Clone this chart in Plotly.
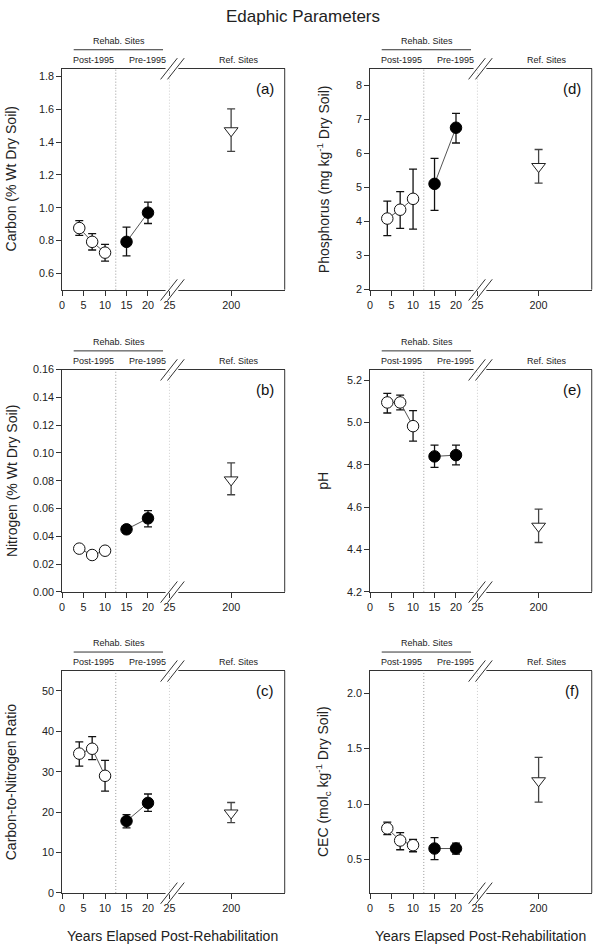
import plotly.graph_objects as go

# ---------------- data ----------------
years_post = [4, 7, 10]
years_pre = [15, 20]
years_ref = [200]

carbon_post = [0.876, 0.792, 0.726]
carbon_post_hi = [0.922, 0.842, 0.776]
carbon_post_lo = [0.832, 0.742, 0.674]
carbon_pre = [0.792, 0.970]
carbon_pre_hi = [0.882, 1.034]
carbon_pre_lo = [0.706, 0.904]
carbon_ref = [1.47]
carbon_ref_hi = [1.604]
carbon_ref_lo = [1.344]

nitrogen_post = [0.0311, 0.0265, 0.0296]
nitrogen_post_hi = [0.0333, 0.0280, 0.0320]
nitrogen_post_lo = [0.0290, 0.0250, 0.0272]
nitrogen_pre = [0.0450, 0.0529]
nitrogen_pre_hi = [0.0467, 0.0585]
nitrogen_pre_lo = [0.0433, 0.0467]
nitrogen_ref = [0.0806]
nitrogen_ref_hi = [0.0929]
nitrogen_ref_lo = [0.0699]

cn_post = [34.5, 35.7, 29.0]
cn_post_hi = [37.4, 38.7, 32.8]
cn_post_lo = [31.4, 33.0, 25.2]
cn_pre = [17.8, 22.3]
cn_pre_hi = [19.4, 24.5]
cn_pre_lo = [16.1, 20.2]
cn_ref = [19.8]
cn_ref_hi = [22.4]
cn_ref_lo = [17.4]

phos_post = [4.09, 4.35, 4.67]
phos_post_hi = [4.60, 4.88, 5.54]
phos_post_lo = [3.59, 3.80, 3.78]
phos_pre = [5.11, 6.76]
phos_pre_hi = [5.86, 7.18]
phos_pre_lo = [4.33, 6.31]
phos_ref = [5.62]
phos_ref_hi = [6.12]
phos_ref_lo = [5.13]

ph_post = [5.095, 5.095, 4.983]
ph_post_hi = [5.138, 5.130, 5.056]
ph_post_lo = [5.045, 5.060, 4.912]
ph_pre = [4.840, 4.846]
ph_pre_hi = [4.893, 4.893]
ph_pre_lo = [4.788, 4.800]
ph_ref = [4.51]
ph_ref_hi = [4.591]
ph_ref_lo = [4.433]

cec_post = [0.781, 0.672, 0.630]
cec_post_hi = [0.837, 0.743, 0.683]
cec_post_lo = [0.725, 0.589, 0.571]
cec_pre = [0.600, 0.600]
cec_pre_hi = [0.698, 0.648]
cec_pre_lo = [0.500, 0.550]
cec_ref = [1.21]
cec_ref_hi = [1.42]
cec_ref_lo = [1.018]

x_ticks_left = [0, 5, 10, 15, 20, 25]
x_ticks_right = [200]
x_title = "Years Elapsed Post-Rehabilitation"

panels = [
    dict(label="(a)", ytitle="Carbon (% Wt Dry Soil)",
         post=(carbon_post, carbon_post_hi, carbon_post_lo),
         pre=(carbon_pre, carbon_pre_hi, carbon_pre_lo),
         ref=(carbon_ref, carbon_ref_hi, carbon_ref_lo),
         yrange=[0.5, 1.85], yticks=[0.6, 0.8, 1.0, 1.2, 1.4, 1.6, 1.8], fmt=".1f"),
    dict(label="(d)", ytitle="Phosphorus (mg kg<sup>-1</sup> Dry Soil)",
         post=(phos_post, phos_post_hi, phos_post_lo),
         pre=(phos_pre, phos_pre_hi, phos_pre_lo),
         ref=(phos_ref, phos_ref_hi, phos_ref_lo),
         yrange=[2, 8.5], yticks=[2, 3, 4, 5, 6, 7, 8], fmt="d"),
    dict(label="(b)", ytitle="Nitrogen (% Wt Dry Soil)",
         post=(nitrogen_post, nitrogen_post_hi, nitrogen_post_lo),
         pre=(nitrogen_pre, nitrogen_pre_hi, nitrogen_pre_lo),
         ref=(nitrogen_ref, nitrogen_ref_hi, nitrogen_ref_lo),
         yrange=[0, 0.16], yticks=[0, 0.02, 0.04, 0.06, 0.08, 0.10, 0.12, 0.14, 0.16], fmt=".2f"),
    dict(label="(e)", ytitle="pH",
         post=(ph_post, ph_post_hi, ph_post_lo),
         pre=(ph_pre, ph_pre_hi, ph_pre_lo),
         ref=(ph_ref, ph_ref_hi, ph_ref_lo),
         yrange=[4.2, 5.25], yticks=[4.2, 4.4, 4.6, 4.8, 5.0, 5.2], fmt=".1f"),
    dict(label="(c)", ytitle="Carbon-to-Nitrogen Ratio",
         post=(cn_post, cn_post_hi, cn_post_lo),
         pre=(cn_pre, cn_pre_hi, cn_pre_lo),
         ref=(cn_ref, cn_ref_hi, cn_ref_lo),
         yrange=[0, 55], yticks=[0, 10, 20, 30, 40, 50], fmt="d"),
    dict(label="(f)", ytitle="CEC (mol<sub>c</sub> kg<sup>-1</sup> Dry Soil)",
         post=(cec_post, cec_post_hi, cec_post_lo),
         pre=(cec_pre, cec_pre_hi, cec_pre_lo),
         ref=(cec_ref, cec_ref_hi, cec_ref_lo),
         yrange=[0.2, 2.2], yticks=[0.5, 1.0, 1.5, 2.0], fmt=".1f"),
]

# ---------------- layout geometry (pixels) ----------------
W, H = 600, 950
FONT = "Liberation Sans, Arial, sans-serif"
AX = "#333333"
cols = [dict(l=60, b=169, r=286, ytx=8.5), dict(l=372.7, b=481.7, r=597.7, ytx=325)]
rows = [(63.3, 287.3), (368.3, 593.3), (673.3, 898.3)]
RIGHT_RANGE = [146.5, 246.5]


def px(x):
    return x / W


def py(y):
    return 1 - y / H


fig = go.Figure()
layout = dict(width=W, height=H, margin=dict(l=0, r=0, t=0, b=0),
              paper_bgcolor="white", plot_bgcolor="white", showlegend=False,
              font=dict(family=FONT, color="#222"))
shapes = []
annotations = []


def fmt_tick(v, f):
    if f == "d":
        return str(int(round(v)))
    return format(v, f)


def err(vals):
    m, hi, lo = vals
    return [h - v for h, v in zip(hi, m)], [v - l for v, l in zip(m, lo)]


TICKFONT = dict(size=10.8, family=FONT, color="#222")

for i, p in enumerate(panels):
    col = cols[i % 2]
    top, bot = rows[i // 2]
    xa1 = 2 * i + 1
    xa2 = 2 * i + 2
    ya = i + 1
    xn1 = "x" if xa1 == 1 else f"x{xa1}"
    xn2 = f"x{xa2}"
    yn = "y" if ya == 1 else f"y{ya}"
    ydom = [py(bot), py(top)]

    common_x = dict(showgrid=False, zeroline=False, showline=True, linecolor=AX, linewidth=1,
                    mirror=True, ticks="outside", ticklen=5, tickwidth=1, tickcolor=AX,
                    tickfont=TICKFONT, fixedrange=True)
    layout["xaxis" if xa1 == 1 else f"xaxis{xa1}"] = dict(
        common_x, domain=[px(col["l"]), px(col["b"])], range=[0, 25],
        tickvals=x_ticks_left, ticktext=[str(t) for t in x_ticks_left],
        anchor=yn)
    layout[f"xaxis{xa2}"] = dict(
        common_x, domain=[px(col["b"]), px(col["r"])], range=RIGHT_RANGE,
        tickvals=x_ticks_right, ticktext=[str(t) for t in x_ticks_right],
        anchor=yn)
    layout["yaxis" if ya == 1 else f"yaxis{ya}"] = dict(
        domain=ydom, range=p["yrange"], showgrid=False, zeroline=False,
        showline=True, linecolor=AX, linewidth=1, ticks="outside", ticklen=5,
        tickwidth=1, tickcolor=AX, tickvals=p["yticks"],
        ticktext=[fmt_tick(v, p["fmt"]) for v in p["yticks"]],
        tickfont=TICKFONT, anchor=xn1, fixedrange=True)

    # traces
    ep, em = err(p["post"])
    fig.add_trace(go.Scatter(x=years_post, y=p["post"][0], xaxis=xn1, yaxis=yn,
                             mode="lines+markers",
                             line=dict(color="#555", width=1),
                             marker=dict(symbol="circle", size=11.5, color="white",
                                         line=dict(color="#111", width=1)),
                             error_y=dict(type="data", array=ep, arrayminus=em,
                                          color="#111", thickness=1.3, width=4),
                             cliponaxis=False, hoverinfo="skip"))
    ep, em = err(p["pre"])
    fig.add_trace(go.Scatter(x=years_pre, y=p["pre"][0], xaxis=xn1, yaxis=yn,
                             mode="lines+markers",
                             line=dict(color="#555", width=1),
                             marker=dict(symbol="circle", size=11.5, color="black",
                                         line=dict(color="black", width=1)),
                             error_y=dict(type="data", array=ep, arrayminus=em,
                                          color="#111", thickness=1.3, width=4),
                             cliponaxis=False, hoverinfo="skip"))
    ep, em = err(p["ref"])
    fig.add_trace(go.Scatter(x=years_ref, y=p["ref"][0], xaxis=xn2, yaxis=yn,
                             mode="markers",
                             marker=dict(symbol="triangle-down", size=12, color="white",
                                         line=dict(color="#222", width=1)),
                             error_y=dict(type="data", array=ep, arrayminus=em,
                                          color="#444", thickness=1.3, width=4),
                             cliponaxis=False, hoverinfo="skip"))

    # right border
    shapes.append(dict(type="line", xref="paper", yref="paper",
                       x0=px(col["r"]), x1=px(col["r"]), y0=py(bot), y1=py(top),
                       line=dict(color=AX, width=1)))
    # dotted separators
    for xv in (12.5, 25):
        shapes.append(dict(type="line", xref=xn1, yref="paper", x0=xv, x1=xv,
                           y0=py(bot), y1=py(top),
                           line=dict(color="#999", width=1, dash="1px,2px")))
    # break slashes at bottom and top
    bx = col["b"]
    for by in (bot, top):
        shapes.append(dict(type="line", xref="paper", yref="paper",
                           x0=px(bx - 4), x1=px(bx + 9), y0=py(by), y1=py(by),
                           line=dict(color="white", width=3)))
        for dx in (0, 7):
            shapes.append(dict(type="line", xref="paper", yref="paper",
                               x0=px(bx - 9 + dx), y0=py(by + 11),
                               x1=px(bx + 8 + dx), y1=py(by - 10.5),
                               line=dict(color=AX, width=1)))
    # rehab bracket
    shapes.append(dict(type="line", xref=xn1, yref="paper", x0=2.7, x1=23.5,
                       y0=py(top - 19), y1=py(top - 19),
                       line=dict(color=AX, width=1)))
    small = dict(size=9, family=FONT, color="#222")
    annotations.append(dict(text="Rehab. Sites", xref=xn1, yref="paper", x=13.3,
                            y=py(top - 28), showarrow=False, font=small,
                            xanchor="center", yanchor="middle"))
    annotations.append(dict(text="Post-1995", xref=xn1, yref="paper", x=7.3,
                            y=py(top - 9), showarrow=False, font=small,
                            xanchor="center", yanchor="middle"))
    annotations.append(dict(text="Pre-1995", xref=xn1, yref="paper", x=19.8,
                            y=py(top - 9), showarrow=False, font=small,
                            xanchor="center", yanchor="middle"))
    annotations.append(dict(text="Ref. Sites", xref=xn2, yref="paper", x=207,
                            y=py(top - 9), showarrow=False, font=small,
                            xanchor="center", yanchor="middle"))
    annotations.append(dict(text=p["label"], xref=xn2, yref="paper", x=229,
                            y=py(top + 20), showarrow=False,
                            font=dict(size=15, family=FONT, color="#111"),
                            xanchor="center", yanchor="middle"))
    annotations.append(dict(text=p["ytitle"], xref="paper", yref="paper",
                            x=px(col["ytx"]), y=py((top + bot) / 2), textangle=-90,
                            showarrow=False, font=dict(size=14, family=FONT, color="#222"),
                            xanchor="center", yanchor="middle"))

# x titles
for cx in (172.5, 485):
    annotations.append(dict(text=x_title, xref="paper", yref="paper", x=px(cx),
                            y=py(941.5), showarrow=False,
                            font=dict(size=14, family=FONT, color="#222"),
                            xanchor="center", yanchor="middle"))
# main title
annotations.append(dict(text="Edaphic Parameters", xref="paper", yref="paper",
                        x=px(305), y=py(11), showarrow=False,
                        font=dict(size=17, family=FONT, color="#222"),
                        xanchor="center", yanchor="middle"))

layout["shapes"] = shapes
layout["annotations"] = annotations
fig.update_layout(**layout)
fig.write_html("out.html", config={"displayModeBar": False, "staticPlot": True},
               post_script="document.body.style.margin='0';document.body.style.padding='0';")
